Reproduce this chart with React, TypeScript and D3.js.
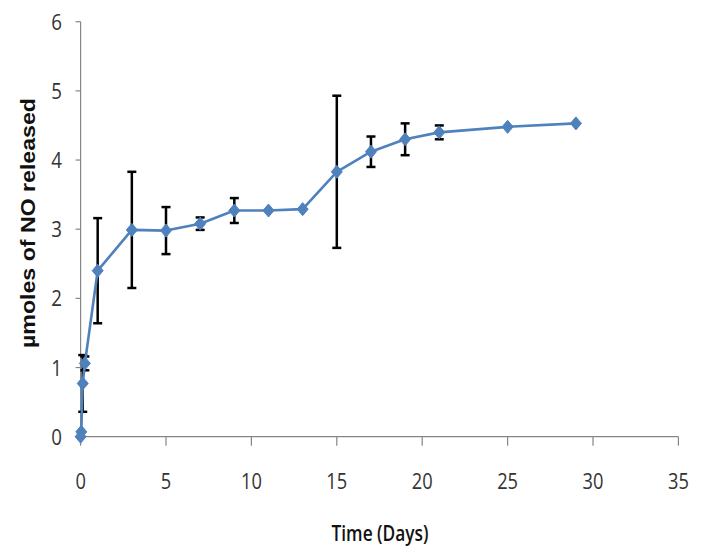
import React from "react";
import * as d3 from "d3";

const days = [0, 0.04, 0.125, 0.25, 1, 3, 5, 7, 9, 11, 13, 15, 17, 19, 21, 25, 29];
const means = [0, 0.07, 0.77, 1.06, 2.4, 2.99, 2.98, 3.08, 3.27, 3.27, 3.29, 3.83, 4.12, 4.3, 4.4, 4.48, 4.53];
const errs = [0, 0, 0.41, 0.1, 0.76, 0.84, 0.34, 0.09, 0.18, 0, 0, 1.1, 0.22, 0.23, 0.1, 0, 0];
const xTicks = [0, 5, 10, 15, 20, 25, 30, 35];
const yTicks = [0, 1, 2, 3, 4, 5, 6];
const xTitle = "Time (Days)";
const yTitle = "µmoles of NO released";

const W = 702;
const H = 558;
const BLUE = "#4F81BD";
const AXIS = "#868686";

export default function App() {
  const x = d3.scaleLinear().domain([0, 35]).range([80.6, 678.4]);
  const y = d3.scaleLinear().domain([0, 6]).range([436.7, 21.7]);
  const pts = days.map((d, i) => ({ d, v: means[i], e: errs[i] }));
  const line = d3
    .line<{ d: number; v: number }>()
    .x((p) => x(p.d))
    .y((p) => y(p.v));
  const diamond = (cx: number, cy: number) => {
    const hw = 5.5;
    const hh = 6.5;
    return `M${cx},${cy - hh}L${cx + hw},${cy}L${cx},${cy + hh}L${cx - hw},${cy}Z`;
  };
  const cap = 4.5;
  const tickFont = "'Open Sans', Lato, sans-serif";
  return (
    <svg
      width={W}
      height={H}
      style={{ position: "absolute", left: 0, top: 0, background: "#fff" }}
    >
      <rect x={0} y={0} width={W} height={H} fill="#fff" />
      {/* axes */}
      <line x1={x(0)} x2={x(0)} y1={y(6)} y2={y(0)} stroke={AXIS} strokeWidth={1.2} />
      <line x1={x(0)} x2={x(35)} y1={y(0)} y2={y(0)} stroke={AXIS} strokeWidth={1.2} />
      {yTicks.map((t) => (
        <g key={"yt" + t}>
          <line x1={x(0) - 5} x2={x(0)} y1={y(t)} y2={y(t)} stroke={AXIS} strokeWidth={1.2} />
          <text
            x={62}
            y={y(t) + 8}
            textAnchor="end"
            fontFamily={tickFont}
            fontSize={22}
            fill="#333"
            transform={`translate(62,0) scale(0.85,1) translate(-62,0)`}
          >
            {t}
          </text>
        </g>
      ))}
      {xTicks.map((t) => (
        <g key={"xt" + t} transform={`translate(${x(t)},0)`}>
          <line x1={0} x2={0} y1={y(0)} y2={y(0) + 9} stroke={AXIS} strokeWidth={1.2} />
          <text
            x={0}
            y={489}
            textAnchor="middle"
            fontFamily={tickFont}
            fontSize={21.5}
            fill="#333"
            transform="scale(0.85,1)"
          >
            {t}
          </text>
        </g>
      ))}
      <text
        x={380}
        y={541}
        textAnchor="middle"
        fontFamily={tickFont}
        fontWeight={600}
        fontSize={21}
        textLength={97}
        lengthAdjust="spacingAndGlyphs"
        fill="#111"
      >
        {xTitle}
      </text>
      <text
        transform={`translate(35,223) rotate(-90)`}
        textAnchor="middle"
        fontFamily="'Liberation Sans', Arial, sans-serif"
        fontWeight="bold"
        fontSize={21}
        textLength={250}
        lengthAdjust="spacingAndGlyphs"
        fill="#111"
      >
        {yTitle}
      </text>
      {/* error bars */}
      {pts
        .filter((p) => p.e > 0)
        .map((p, i) => (
          <g key={"e" + i} stroke="#000" strokeWidth={2.5}>
            <line x1={x(p.d)} x2={x(p.d)} y1={y(p.v + p.e)} y2={y(p.v - p.e)} />
            <line x1={x(p.d) - cap} x2={x(p.d) + cap} y1={y(p.v + p.e)} y2={y(p.v + p.e)} />
            <line x1={x(p.d) - cap} x2={x(p.d) + cap} y1={y(p.v - p.e)} y2={y(p.v - p.e)} />
          </g>
        ))}
      {/* series line */}
      <path d={line(pts) || ""} fill="none" stroke={BLUE} strokeWidth={2.6} strokeLinejoin="round" />
      {pts.map((p, i) => (
        <path key={"m" + i} d={diamond(x(p.d), y(p.v))} fill={BLUE} stroke={BLUE} strokeWidth={1} />
      ))}
    </svg>
  );
}
